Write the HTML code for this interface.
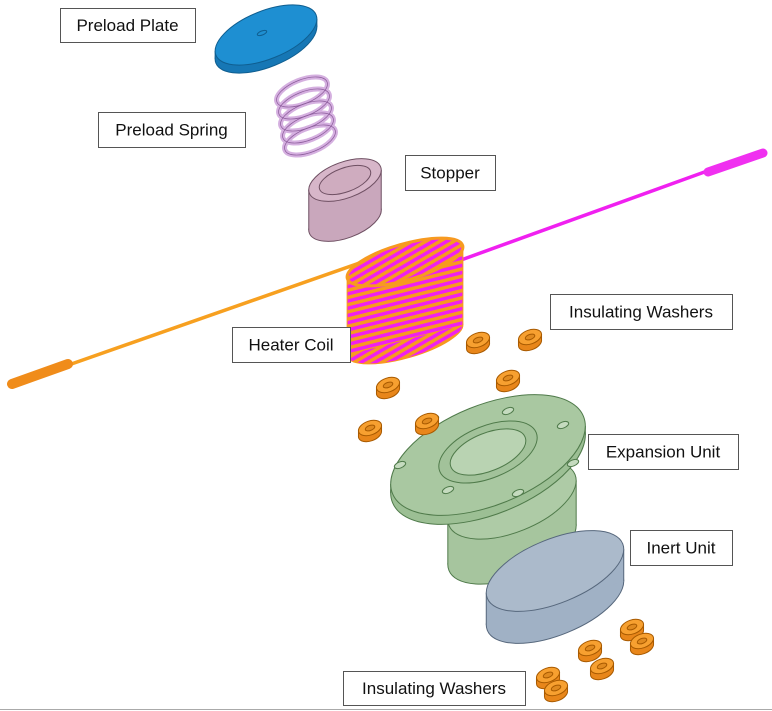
<!DOCTYPE html>
<html><head><meta charset="utf-8"><style>
html,body{margin:0;padding:0;background:#fff;width:772px;height:711px;overflow:hidden}
text{font-family:"Liberation Sans",Arial,sans-serif;font-size:17px;fill:#111}
</style></head><body>
<svg id="s" width="772" height="711" viewBox="0 0 772 711" xmlns="http://www.w3.org/2000/svg">
<defs>
<pattern id="stripes" width="12" height="7" patternUnits="userSpaceOnUse" patternTransform="rotate(-14)">
<rect width="12" height="7" fill="#f020f0"/><rect width="12" height="3.5" fill="#f79a20"/>
</pattern>
</defs>
<line x1="0" y1="709.5" x2="772" y2="709.5" stroke="#aaa" stroke-width="1"/>
<g>
<line x1="60" y1="368" x2="408" y2="246" stroke="#f7a020" stroke-width="3.5"/>
<line x1="12" y1="384" x2="68" y2="364" stroke="#f08c1a" stroke-width="10" stroke-linecap="round"/>
</g>
<g>
<line x1="450" y1="264" x2="710" y2="170" stroke="#f020f0" stroke-width="3.5"/>
<line x1="708" y1="172" x2="763" y2="153" stroke="#f030f0" stroke-width="9" stroke-linecap="round"/>
</g>
<g id="parts"></g>
<g id="labels"></g>
</svg>
<script>
const NS='http://www.w3.org/2000/svg';
const parts=document.getElementById('parts');
function mk(tag,attrs,parent){const e=document.createElementNS(NS,tag);for(const k in attrs)e.setAttribute(k,attrs[k]);parent.appendChild(e);return e;}
function ept(cx,cy,rx,ry,rot,t){const a=rot*Math.PI/180;const x=rx*Math.cos(t),y=ry*Math.sin(t);return [cx+x*Math.cos(a)-y*Math.sin(a),cy+x*Math.sin(a)+y*Math.cos(a)];}
function cyl(parent,cx,cy,rx,ry,h,rot,fill,side,stroke){
  const g=mk('g',{},parent);
  let L=null,R=null;
  for(let i=0;i<360;i++){const p=ept(cx,cy,rx,ry,rot,i*Math.PI/180);if(!L||p[0]<L[0])L=p;if(!R||p[0]>R[0])R=p;}
  mk('ellipse',{cx:cx,cy:cy+h,rx:rx,ry:ry,transform:`rotate(${rot} ${cx} ${cy+h})`,fill:side,stroke:stroke},g);
  mk('polygon',{points:`${L[0]},${L[1]} ${L[0]},${L[1]+h} ${R[0]},${R[1]+h} ${R[0]},${R[1]}`,fill:side},g);
  mk('line',{x1:L[0],y1:L[1],x2:L[0],y2:L[1]+h,stroke:stroke},g);
  mk('line',{x1:R[0],y1:R[1],x2:R[0],y2:R[1]+h,stroke:stroke},g);
  mk('ellipse',{cx:cx,cy:cy,rx:rx,ry:ry,transform:`rotate(${rot} ${cx} ${cy})`,fill:fill,stroke:stroke},g);
  return g;
}
function rell(g,cx,cy,rx,ry,rot,fill,stroke,sw){return mk('ellipse',{cx:cx,cy:cy,rx:rx,ry:ry,transform:`rotate(${rot} ${cx} ${cy})`,fill:fill,stroke:stroke,'stroke-width':sw||1},g);}
// preload plate
let g=cyl(parts,266,35,54,24,8,-22,'#1e8fd2','#1677b5','#0f5e90');


rell(g,262,33,5,2,-22,'none','#0f5e90');
// spring
const sp=mk('g',{},parts);


for(let i=0;i<5;i++)rell(sp,302+i*2,92+i*12,27,12,-22,'none','#d5b0e0',5);
for(let i=0;i<5;i++)rell(sp,302+i*2,92+i*12,27,12,-22,'none','#8b5a9a',0.7);
// stopper
g=cyl(parts,345,180,38,18,40,-20,'#d7b6c9','#c9a7bc','#6e4f62');


rell(g,345,180,27,12,-20,'#cfacbf','#6e4f62');
// heater coil
const coil=cyl(parts,405,262,60,18,78,-16,'url(#stripes)','url(#stripes)','#f79a20');


rell(coil,405,262,60,18,-16,'none','#f79a20',3);
// expansion unit
g=cyl(parts,512,500,68,32,45,-22,'#aecba6','#a6c59e','#4f7a4a');


g=cyl(parts,488,455,103,50,9,-22,'#a9c8a1','#9cbf94','#4f7a4a');


rell(g,488,452,52,26,-22,'#a2c29a','#4f7a4a');
rell(g,488,452,40,19,-22,'#b9d3b2','#4f7a4a');
[[-88,10],[-40,35],[30,38],[85,8],[75,-30],[20,-44],[-55,-36]].forEach(h=>{rell(g,488+h[0],455+h[1],6,3,-22,'#c5dbbf','#4f7a4a');});
// inert unit
g=cyl(parts,555,571,73,32,32,-22,'#abbacb','#a0b1c5','#56677c');


// washers
const washers=[[478,340],[530,337],[388,385],[508,378],[370,428],[427,421],[590,648],[632,627],[642,641],[548,675],[556,688],[602,666]];
washers.forEach((w,i)=>{
  const wg=cyl(parts,w[0],w[1],12,7,6,-20,'#f7a030','#e8861a','#a85a00');
  
  
  rell(wg,w[0],w[1],5,2.5,-20,'#e08a20','#a85a00');
});
const labels=[['Preload Plate',60,8,135,34],['Preload Spring',98,112,147,35],['Stopper',405,155,90,35],['Heater Coil',232,327,118,35],['Insulating Washers',550,294,182,35],['Expansion Unit',588,434,150,35],['Inert Unit',630,530,102,35],['Insulating Washers',343,671,182,34]];
const Lg=document.getElementById('labels');
labels.forEach(l=>{
  const lg=mk('g',{},Lg);
  
  
  mk('rect',{x:l[1]+0.5,y:l[2]+0.5,width:l[3],height:l[4],fill:'#fff',stroke:'#555'},lg);
  const t=mk('text',{x:l[1]+l[3]/2,y:l[2]+l[4]/2+6,'text-anchor':'middle'},lg);
  t.textContent=l[0];
});
</script>
</body></html>
